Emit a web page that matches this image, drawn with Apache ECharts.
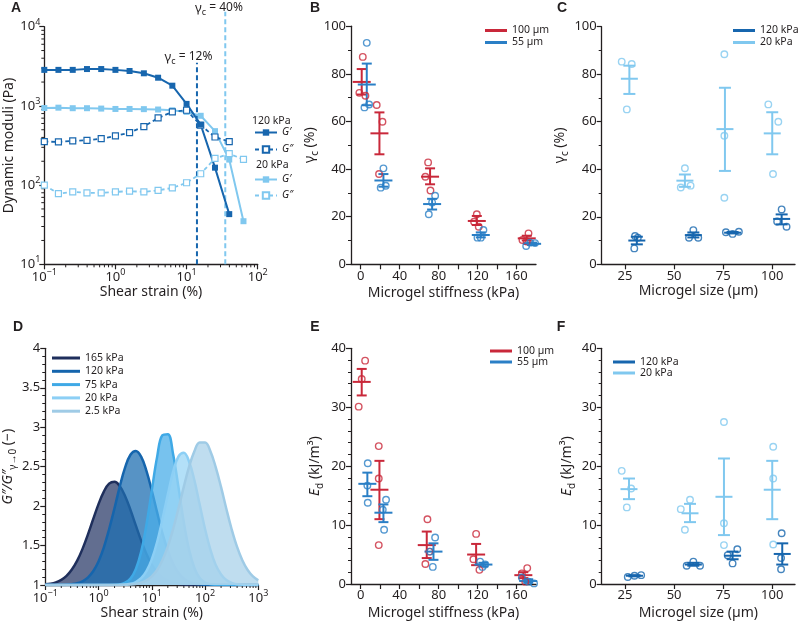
<!DOCTYPE html>
<html><head><meta charset="utf-8">
<script src="https://cdn.jsdelivr.net/npm/echarts@6/dist/echarts.min.js"></script>
<style>html,body{margin:0;padding:0;background:#fff}#c{width:800px;height:626px}</style>
</head><body><div id="c"></div><script>
// ---------- Panel A data ----------
const strainA = [0.1,0.158,0.251,0.398,0.631,1,1.58,2.51,3.98,6.31,10,15.8,25.1,39.8,63.1];
const gPrime120 = [2850,2850,2850,2920,2920,2850,2760,2580,2270,1800,1060,580,166,43];
const gDouble120 = [354,351,361,368,386,418,460,548,705,840,881,570,405,354];
const gPrime20 = [940,950,935,935,925,915,915,910,900,880,840,750,480,210,35];
const gDouble20 = [100,78,82,80,80,82,84,82,86,92,107,139,217,249,211];
const gammaC = [14, 35];
const gammaLineTop = [3500, 15500];
const minorA_x = [0.2,0.3,0.4,0.5,0.6,0.7,0.8,0.9,2,3,4,5,6,7,8,9,20,30,40,50,60,70,80,90];
const minorA_y = [20,30,40,50,60,70,80,90,200,300,400,500,600,700,800,900,2000,3000,4000,5000,6000,7000,8000,9000];

// ---------- Panel B data (gamma_c vs stiffness) ----------
const bRedPts = [[2.1,87.1],[-1.4,72],[4.8,70.8],[16.4,66.9],[22.3,59.9],[18.8,37.9],[69.2,42.8],[66.4,36.8],[71.6,31],[119.2,21],[116.4,17.9],[121.2,15.8],[172.3,13],[166.1,10.2],[170.5,9.6]];
const bRedStats = [[1.0,76.6,71.3,82],[19.2,55,46.2,63.8],[71.2,36.8,33.6,40.3],[119.2,18.2,16.5,20.3],[170.5,10.9,10,12]];
const bBluePts = [[6.2,93],[3.8,65.9],[8.6,67.1],[23.3,40.3],[20.5,32.2],[25.7,33],[76.4,28.8],[73.3,26],[69.9,21],[126,14.4],[119.9,11.2],[123.3,11.2],[169.9,7.7],[174,9.1],[179,8.9]];
const bBlueStats = [[6.2,75.5,66.8,84.3],[23.3,35.2,32.6,37.9],[73.3,25.3,23,27.5],[123.3,12.3,11.3,13.4],[176,8.6,8.1,9.1]];

// ---------- Panel C data (gamma_c vs size) ----------
const cLightPts = [[23.3,85.3],[28.4,84.3],[25.9,65.2],[55.5,40.4],[53.4,32.3],[58.4,33.1],[75.6,88.4],[75.6,54.1],[75.6,28],[98,67.3],[103.1,60],[100.4,38]];
const cLightStats = [[27.2,78.1,71.7,83.6],[55.5,35.2,32.6,37.8],[75.9,56.9,39.3,74.3],[100,55.1,46.3,64]];
const cDarkPts = [[30.1,11.9],[29.7,6.7],[31.5,11.2],[59.8,14.4],[57.6,11.2],[62.3,11.2],[76.4,13.5],[79.8,12.8],[83,13.7],[104.8,23.1],[102.5,18],[107.3,15.8]];
const cDarkStats = [[31.0,10,8.4,11.6],[59.8,12.3,11.3,13.4],[79.8,13.3,13.0,13.6],[104.8,19.1,16.8,21]];

// ---------- Panel D data ----------
const strainD = [0.1,0.126,0.158,0.2,0.251,0.316,0.398,0.501,0.631,0.794,1,1.26,1.58,2,2.51,3.16,3.98,5.01,6.31,7.94,10,12.6,15.8,20,25.1,31.6,39.8,50.1,63.1,79.4,100,126,158,200,251,316,398,501,631,794,1000];
const ratio165 = [1.008,1.017,1.034,1.065,1.116,1.196,1.309,1.458,1.638,1.834,2.025,2.184,2.284,2.308,2.252,2.126,1.951,1.755,1.563,1.394,1.259,1.160,1.093,1.051,1.026,1.013,1.006,1.002,1,1,1,1,1,1,1,1,1,1,1,1,1];
const ratio120 = [1,1,1,1.001,1.004,1.010,1.022,1.047,1.094,1.174,1.299,1.477,1.707,1.975,2.250,2.490,2.651,2.699,2.627,2.447,2.197,1.920,1.657,1.437,1.270,1.155,1.083,1.041,1.019,1.008,1.003,1,1,1,1,1,1,1,1,1,1];
const ratio75 = [1,1,1,1,1,1,1,1,1,1,1,1,1,1.002,1.009,1.029,1.081,1.199,1.420,1.764,2.199,2.624,2.897,2.911,2.661,2.245,1.805,1.448,1.216,1.089,1.032,1.010,1.003,1,1,1,1,1,1,1,1];
const ratio20 = [1,1,1,1,1,1,1,1,1,1,1,1,1,1,1.002,1.006,1.015,1.038,1.086,1.176,1.325,1.545,1.830,2.146,2.434,2.628,2.677,2.566,2.327,2.019,1.710,1.449,1.257,1.134,1.063,1.027,1.010,1.004,1.001,1,1];
const ratio2_5 = [1,1,1,1,1,1,1,1,1,1,1,1,1,1,1.001,1.003,1.006,1.014,1.029,1.058,1.108,1.190,1.314,1.486,1.707,1.966,2.241,2.497,2.696,2.806,2.806,2.696,2.497,2.241,1.966,1.707,1.486,1.314,1.190,1.108,1.058];
const minorD_x = [0.2,0.3,0.4,0.5,0.6,0.7,0.8,0.9,2,3,4,5,6,7,8,9,20,30,40,50,60,70,80,90,200,300,400,500,600,700,800,900];

// ---------- Panel E data (Ed vs stiffness) ----------
const eRedPts = [[4.5,37.9],[1.0,34.8],[-2.1,30.1],[18.5,23.4],[18.5,17.9],[18.5,6.6],[68.5,11],[70.5,5.5],[66.4,3.4],[118.5,8.5],[115.7,4.2],[121.9,2.4],[171,2.7],[165.5,1.8],[169,0.4]];
const eRedStats = [[1.0,34.3,32.0,36.5],[19.2,16,11,20.9],[67.8,6.6,4.4,8.9],[118.5,5.0,3.2,6.8],[167,1.5,1.0,2.0]];
const eBluePts = [[7.2,20.5],[6.8,16.7],[7.2,13.8],[26,14.3],[22.6,12.6],[24,9.2],[76.4,7.9],[71.2,5.5],[74,2.9],[122.6,3.8],[127.7,3.3],[125,2.9],[165.5,1.1],[172.3,0.4],[178,0.1]];
const eBlueStats = [[6.8,17,14.9,18.9],[23.3,12.1,10.5,13.5],[74.7,5.5,4.1,6.9],[126,3.3,3.0,3.6],[172,0.5,0.2,0.8]];

// ---------- Panel F data (Ed vs size) ----------
const fLightPts = [[23.3,19.2],[28.1,16.2],[25.9,13.0],[58.1,14.3],[53.4,12.7],[55.5,9.2],[75.4,27.5],[75.4,10.3],[75.4,6.6],[100.5,23.3],[100.5,17.9],[100.5,6.7]];
const fLightStats = [[27,16.1,14.4,17.9],[58.1,12,10.5,13.6],[75.4,14.8,8.3,21.3],[100,16,11,20.9]];
const fDarkPts = [[26.4,1.2],[29.8,1.4],[33.2,1.5],[56.4,3.1],[59.8,3.8],[63.2,3.1],[77.3,4.9],[82.2,5.9],[79.8,3.5],[104.8,8.6],[104.5,4.4],[104.5,2.5]];
const fDarkStats = [[29.8,1.4,1.3,1.5],[59.8,3.3,3.1,3.6],[79.8,4.8,4.2,5.5],[105.1,5.1,3.3,6.9]];

// ---------- tick labels ----------
const stiffTicks = [0,20,40,60,80,100,120,140,160];
const stiffLabels = [0,40,80,120,160];
const sizeTicks = [25,50,75,100];

// ---------- styles ----------
const FONT = 'Noto Sans';
const TXT = '#231f20';
const RED = '#c9283a', BLUE = '#2a7fc6', DARK = '#1766ae', LIGHT = '#80c8ef';
const D_LINE = ['#1f2f5c','#1565ad','#3fa9e6','#8ccff5','#9fcbe6'];
const D_FILL = ['#2d3d6b','#1f6fb2','#4aaee8','#9ad6f6','#a9d2ea'];

function merge(a, b) {
  const out = Object.assign({}, a);
  for (const k in b) {
    if (b[k] && typeof b[k] === 'object' && !Array.isArray(b[k]) && a[k] && typeof a[k] === 'object') out[k] = merge(a[k], b[k]);
    else out[k] = b[k];
  }
  return out;
}
const subRich = {
  g: {fontSize: 14, fontFamily: FONT, color: TXT},
  i: {fontSize: 14, fontFamily: FONT, color: TXT, fontStyle: 'italic'},
  s: {fontSize: 10, fontFamily: FONT, color: TXT, verticalAlign: 'bottom', lineHeight: 20},
  n: {fontSize: 14, fontFamily: FONT, color: TXT}
};
function axis(extra) {
  return merge({
    nameLocation: 'middle',
    nameTextStyle: {color: TXT, fontSize: 14, fontFamily: FONT, rich: subRich},
    axisLine: {onZero: false, lineStyle: {color: TXT, width: 1.3}},
    axisTick: {length: 5, lineStyle: {color: TXT, width: 1.2}},
    minorTick: {show: false, length: 3, lineStyle: {color: TXT, width: 1}},
    axisLabel: {color: TXT, fontSize: 13, fontFamily: FONT, margin: 5},
    splitLine: {show: false}
  }, extra);
}
const supRich = {s: {fontSize: 9, fontFamily: FONT, color: TXT, verticalAlign: 'top', lineHeight: 18}};
function logFmt(v) {
  const e = Math.round(Math.log10(v));
  return '10{s|' + (e < 0 ? '\u2212' + (-e) : e) + '}';
}
const pairs = (xs, ys) => ys.map((y, i) => [xs[i], y]);

function statSeries(name, gi, data, color, hw, cw) {
  return {
    name, type: 'custom', xAxisIndex: gi, yAxisIndex: gi, data, silent: true, z: 3,
    itemStyle: {color}, encode: {x: 0, y: [1, 2, 3]},
    renderItem: (p, api) => {
      const x = api.value(0), m = api.value(1), lo = api.value(2), hi = api.value(3);
      const a = api.coord([x, m]), b = api.coord([x, lo]), c = api.coord([x, hi]);
      const st = () => ({stroke: color, lineWidth: 2});
      return {type: 'group', children: [
        {type: 'line', shape: {x1: a[0] - hw, y1: a[1], x2: a[0] + hw, y2: a[1]}, style: st()},
        {type: 'line', shape: {x1: a[0], y1: b[1], x2: a[0], y2: c[1]}, style: st()},
        {type: 'line', shape: {x1: a[0] - cw, y1: b[1], x2: a[0] + cw, y2: b[1]}, style: st()},
        {type: 'line', shape: {x1: a[0] - cw, y1: c[1], x2: a[0] + cw, y2: c[1]}, style: st()}
      ]};
    }
  };
}
function dotSeries(name, gi, data, color) {
  return {name, type: 'scatter', xAxisIndex: gi, yAxisIndex: gi, data, z: 4, silent: true,
    symbol: 'circle', symbolSize: 6.5,
    itemStyle: {color: 'rgba(255,255,255,0)', borderColor: color, borderWidth: 1.4}};
}
function minorSeries(gi, vals, fixed, dir) {
  return {type: 'custom', xAxisIndex: gi, yAxisIndex: gi, silent: true, clip: false,
    data: vals.map(v => dir === 'x' ? [v, fixed] : [fixed, v]),
    renderItem: (p, api) => {
      const pt = api.coord([api.value(0), api.value(1)]);
      const shape = dir === 'x' ? {x1: pt[0], y1: pt[1], x2: pt[0], y2: pt[1] + 3}
                                : {x1: pt[0] - 3, y1: pt[1], x2: pt[0], y2: pt[1]};
      return {type: 'line', shape, style: {stroke: TXT, lineWidth: 1}};
    }};
}
const legendText = {fontSize: 10.5, fontFamily: FONT, color: TXT};
const strip = n => n.split(':')[1];
function rectLegend(left, top, items, width, gap) {
  return {left, top, orient: 'vertical', selectedMode: false, itemWidth: width, itemHeight: 3, itemGap: gap,
    formatter: strip, textStyle: legendText, padding: 0,
    data: items.map(([n, c]) => ({name: n, icon: 'rect', itemStyle: {color: c, borderWidth: 0}}))};
}
function label(t, x, y) {
  return {type: 'text', x, y, style: {text: t, fill: TXT, fontSize: 14, fontWeight: 'bold', fontFamily: 'Liberation Sans', align: 'center', verticalAlign: 'middle'}};
}
function gammaText(t, x, y) {
  return {type: 'text', x, y, style: {text: '{g|\u03b3}{s|c}{n| = ' + t + '}', align: 'center', verticalAlign: 'middle', fill: TXT,
    rich: {g: {fontSize: 13, fontFamily: FONT, fill: TXT}, s: {fontSize: 9, fontFamily: FONT, fill: TXT, verticalAlign: 'bottom', lineHeight: 18}, n: {fontSize: 12, fontFamily: FONT, fill: TXT}}}};
}
function plainText(t, x, y) {
  return {type: 'text', x, y, style: {text: t, fill: TXT, fontSize: 10.5, fontFamily: FONT, align: 'left', verticalAlign: 'middle'}};
}

const chart = echarts.init(document.getElementById('c'), null, {renderer: 'canvas'});
const option = {
  animation: false,
  backgroundColor: '#fff',
  grid: [
    {left: 44.3, top: 26.7, width: 213.4, height: 237.6},
    {left: 351, top: 26.2, width: 185, height: 238.1},
    {left: 601.7, top: 26.7, width: 193.3, height: 237.6},
    {left: 41.7, top: 348.3, width: 216.6, height: 236.7},
    {left: 351, top: 348.3, width: 185, height: 235.7},
    {left: 601.7, top: 348.3, width: 193.3, height: 235.7}
  ],
  xAxis: [
    axis({gridIndex: 0, type: 'log', min: 0.1, max: 100, name: 'Shear strain (%)', nameGap: 16,
      axisLabel: {formatter: logFmt, rich: supRich, margin: 4}}),
    axis({gridIndex: 1, type: 'value', min: -10, max: 180, name: 'Microgel stiffness (kPa)', nameGap: 22,
      axisTick: {customValues: stiffTicks}, axisLabel: {customValues: stiffLabels}}),
    axis({gridIndex: 2, type: 'value', min: 13.1, max: 111.6, name: 'Microgel size (\u00b5m)', nameGap: 20,
      axisTick: {customValues: sizeTicks}, axisLabel: {customValues: sizeTicks}}),
    axis({gridIndex: 3, type: 'log', min: 0.1, max: 1000, name: 'Shear strain (%)', nameGap: 21,
      axisLabel: {formatter: logFmt, rich: supRich, margin: 4}}),
    axis({gridIndex: 4, type: 'value', min: -10, max: 180, name: 'Microgel stiffness (kPa)', nameGap: 22,
      axisTick: {customValues: stiffTicks}, axisLabel: {customValues: stiffLabels}}),
    axis({gridIndex: 5, type: 'value', min: 13.1, max: 111.6, name: 'Microgel size (\u00b5m)', nameGap: 22,
      axisTick: {customValues: sizeTicks}, axisLabel: {customValues: sizeTicks}})
  ],
  yAxis: [
    axis({gridIndex: 0, type: 'log', min: 10, max: 10000, name: 'Dynamic moduli (Pa)', nameGap: 26,
      axisLabel: {formatter: logFmt, rich: supRich, margin: 4}}),
    axis({gridIndex: 1, type: 'value', min: 0, max: 100, interval: 20, name: '{g|\u03b3}{s|c}{n| (%)}', nameGap: 23,
      minorTick: {show: true, splitNumber: 2}}),
    axis({gridIndex: 2, type: 'value', min: 0, max: 100, interval: 20, name: '{g|\u03b3}{s|c}{n| (%)}', nameGap: 25,
      minorTick: {show: true, splitNumber: 2}}),
    axis({gridIndex: 3, type: 'value', min: 1, max: 4, interval: 0.5, name: '{i|G\u2033/G\u2033}{s|\u03b3\u21920}{n| (\u2212)}', nameGap: 22,
      minorTick: {show: true, splitNumber: 5}}),
    axis({gridIndex: 4, type: 'value', min: 0, max: 40, interval: 10, name: '{i|E}{s|d}{n| (kJ/m\u00b3)}', nameGap: 26,
      minorTick: {show: true, splitNumber: 5}}),
    axis({gridIndex: 5, type: 'value', min: 0, max: 40, interval: 10, name: '{i|E}{s|d}{n| (kJ/m\u00b3)}', nameGap: 25,
      minorTick: {show: true, splitNumber: 5}})
  ],
  legend: [
    {left: 254, top: 127, orient: 'vertical', selectedMode: false, itemWidth: 22, itemHeight: 8, itemGap: 6, padding: 0,
      formatter: strip, textStyle: merge(legendText, {fontStyle: 'italic'}), data: ['A1:G\u2032', 'A1:G\u2033']},
    {left: 254, top: 174, orient: 'vertical', selectedMode: false, itemWidth: 22, itemHeight: 8, itemGap: 5, padding: 0,
      formatter: strip, textStyle: merge(legendText, {fontStyle: 'italic'}), data: ['A2:G\u2032', 'A2:G\u2033']},
    rectLegend(485, 25, [['B:100 \u00b5m', RED], ['B:55 \u00b5m', BLUE]], 22, 1),
    rectLegend(733, 25, [['C:120 kPa', DARK], ['C:20 kPa', LIGHT]], 22, 1),
    rectLegend(52, 352.5, [['D:165 kPa', D_LINE[0]], ['D:120 kPa', D_LINE[1]], ['D:75 kPa', D_LINE[2]], ['D:20 kPa', D_LINE[3]], ['D:2.5 kPa', D_LINE[4]]], 28, 2.3),
    rectLegend(490, 345.5, [['E:100 \u00b5m', RED], ['E:55 \u00b5m', BLUE]], 22, 0),
    rectLegend(613, 356.5, [['F:120 kPa', DARK], ['F:20 kPa', LIGHT]], 22, 0)
  ],
  graphic: {elements: [
    label('A', 16, 8), label('B', 315, 8), label('C', 562, 8),
    label('D', 18, 327), label('E', 315, 327), label('F', 561, 327),
    gammaText('40%', 219, 8), gammaText('12%', 188.5, 57),
    plainText('120 kPa', 252, 121), plainText('20 kPa', 256, 165)
  ]},
  series: [
    // Panel A
    {name: 'gc12', type: 'line', xAxisIndex: 0, yAxisIndex: 0, data: [[gammaC[0], 10], [gammaC[0], gammaLineTop[0]]], symbol: 'none', clip: false, silent: true,
      lineStyle: {color: DARK, width: 2, type: [5, 3]}, z: 1},
    {name: 'gc40', type: 'line', xAxisIndex: 0, yAxisIndex: 0, data: [[gammaC[1], 10], [gammaC[1], gammaLineTop[1]]], symbol: 'none', clip: false, silent: true,
      lineStyle: {color: LIGHT, width: 2, type: [5, 3]}, z: 1},
    {name: 'A2:G\u2033', type: 'line', xAxisIndex: 0, yAxisIndex: 0, data: pairs(strainA, gDouble20), symbol: 'rect', symbolSize: 6,
      lineStyle: {color: LIGHT, width: 1.8, type: [4, 3]}, itemStyle: {color: '#fff', borderColor: LIGHT, borderWidth: 1.2}},
    {name: 'A2:G\u2032', type: 'line', xAxisIndex: 0, yAxisIndex: 0, data: pairs(strainA, gPrime20), symbol: 'rect', symbolSize: 6,
      lineStyle: {color: LIGHT, width: 2}, itemStyle: {color: LIGHT}},
    {name: 'A1:G\u2033', type: 'line', xAxisIndex: 0, yAxisIndex: 0, data: pairs(strainA, gDouble120), symbol: 'rect', symbolSize: 6,
      lineStyle: {color: DARK, width: 1.8, type: [4, 3]}, itemStyle: {color: '#fff', borderColor: DARK, borderWidth: 1.2}},
    {name: 'A1:G\u2032', type: 'line', xAxisIndex: 0, yAxisIndex: 0, data: pairs(strainA, gPrime120), symbol: 'rect', symbolSize: 6,
      lineStyle: {color: DARK, width: 2}, itemStyle: {color: DARK}},
    minorSeries(0, minorA_x, 10, 'x'),
    minorSeries(0, minorA_y, 0.1, 'y'),
    // Panel B
    statSeries('B:100 \u00b5m', 1, bRedStats, RED, 9, 5),
    statSeries('B:55 \u00b5m', 1, bBlueStats, BLUE, 9, 5),
    dotSeries('B:100 \u00b5m', 1, bRedPts, RED),
    dotSeries('B:55 \u00b5m', 1, bBluePts, BLUE),
    // Panel C
    statSeries('C:20 kPa', 2, cLightStats, LIGHT, 8.5, 6),
    statSeries('C:120 kPa', 2, cDarkStats, DARK, 8.5, 6),
    dotSeries('C:20 kPa', 2, cLightPts, LIGHT),
    dotSeries('C:120 kPa', 2, cDarkPts, DARK),
    // Panel D
    ...[['D:165 kPa', ratio165], ['D:120 kPa', ratio120], ['D:75 kPa', ratio75], ['D:20 kPa', ratio20], ['D:2.5 kPa', ratio2_5]].map(([n, arr], k) => ({
      name: n, type: 'line', xAxisIndex: 3, yAxisIndex: 3, data: pairs(strainD, arr), symbol: 'none', smooth: 0.4, silent: true,
      lineStyle: {color: D_LINE[k], width: 2.5}, itemStyle: {color: D_LINE[k]},
      areaStyle: {color: D_FILL[k], opacity: 0.75, origin: 'start'}, z: 2 + k
    })),
    minorSeries(3, minorD_x, 1, 'x'),
    // Panel E
    statSeries('E:100 \u00b5m', 4, eRedStats, RED, 9, 5),
    statSeries('E:55 \u00b5m', 4, eBlueStats, BLUE, 9, 5),
    dotSeries('E:100 \u00b5m', 4, eRedPts, RED),
    dotSeries('E:55 \u00b5m', 4, eBluePts, BLUE),
    // Panel F
    statSeries('F:20 kPa', 5, fLightStats, LIGHT, 8.5, 6),
    statSeries('F:120 kPa', 5, fDarkStats, DARK, 8.5, 6),
    dotSeries('F:20 kPa', 5, fLightPts, LIGHT),
    dotSeries('F:120 kPa', 5, fDarkPts, DARK)
  ]
};
chart.setOption(option);
</script></body></html>
